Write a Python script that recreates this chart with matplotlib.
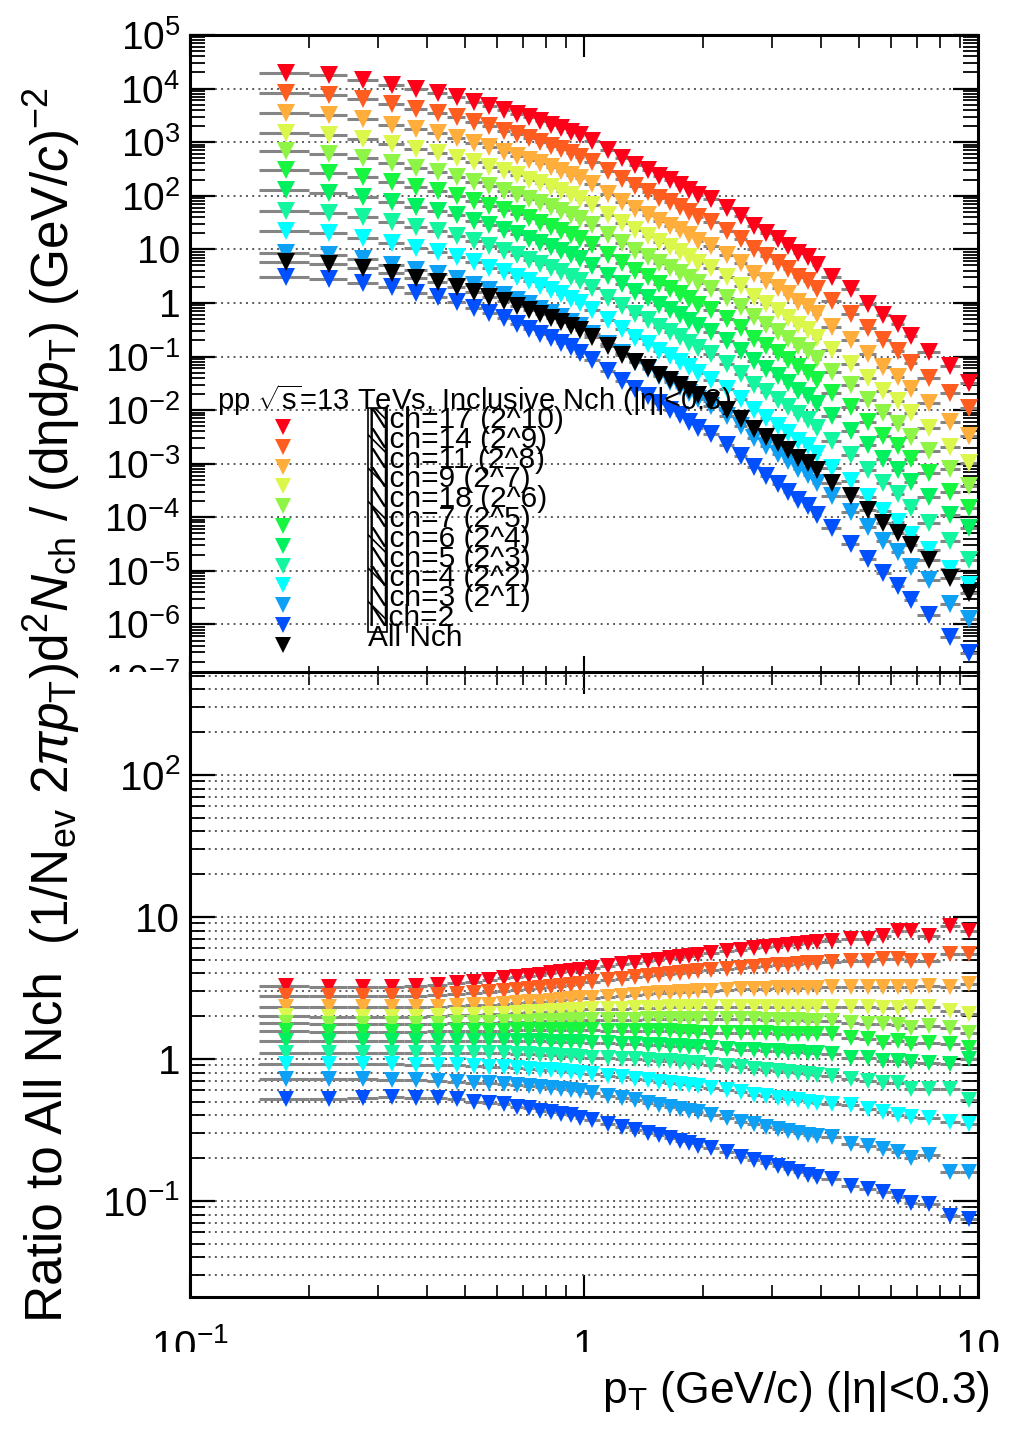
import numpy as np
import matplotlib
matplotlib.use("Agg")
import matplotlib.pyplot as plt
from matplotlib.ticker import LogLocator, FuncFormatter, NullFormatter
from matplotlib.patches import Rectangle
from matplotlib.lines import Line2D

plt.rcParams['font.family'] = ['Liberation Sans', 'DejaVu Sans']
plt.rcParams['mathtext.fontset'] = 'custom'
plt.rcParams['mathtext.rm'] = 'Liberation Sans'
plt.rcParams['mathtext.it'] = 'Liberation Sans:italic'
plt.rcParams['mathtext.bf'] = 'Liberation Sans:bold'
plt.rcParams['mathtext.sf'] = 'Liberation Sans'
plt.rcParams['hatch.linewidth'] = 1.2

# ---------------- data ----------------
pt = [0.175, 0.225, 0.275, 0.325, 0.375, 0.425, 0.475, 0.525, 0.575, 0.625, 0.675, 0.725,
      0.775, 0.825, 0.875, 0.925, 0.975,
      1.05, 1.15, 1.25, 1.35, 1.45, 1.55, 1.65, 1.75, 1.85, 1.95,
      2.1, 2.3, 2.5, 2.7, 2.9, 3.1, 3.3, 3.5, 3.7, 3.9,
      4.25, 4.75, 5.25, 5.75, 6.25, 6.75, 7.5, 8.5, 9.5]
pt_halfwidth = [0.025, 0.025, 0.025, 0.025, 0.025, 0.025, 0.025, 0.025, 0.025, 0.025, 0.025, 0.025,
                0.025, 0.025, 0.025, 0.025, 0.025,
                0.05, 0.05, 0.05, 0.05, 0.05, 0.05, 0.05, 0.05, 0.05, 0.05,
                0.1, 0.1, 0.1, 0.1, 0.1, 0.1, 0.1, 0.1, 0.1, 0.1,
                0.25, 0.25, 0.25, 0.25, 0.25, 0.25, 0.5, 0.5, 0.5]

# All Nch spectrum (1/Nev 2pi pT) d2N/(deta dpT)
all_nch = [5.9, 5.4, 4.5, 3.6, 2.95, 2.45, 2.0, 1.6, 1.3, 1.07, 0.89, 0.74,
           0.62, 0.52, 0.44, 0.37, 0.31,
           0.235, 0.155, 0.108, 0.078, 0.06, 0.046, 0.037, 0.030, 0.024, 0.019,
           0.015, 0.0102, 0.0069, 0.0044, 0.0032, 0.0024, 0.0018, 0.0013, 0.00105, 0.00076,
           0.00044, 0.00025, 0.000135, 0.000079, 0.00005, 0.00003, 0.000016, 0.0000074, 0.0000039]

# ratio to All Nch for each multiplicity class
ratio_nch17 = [3.25, 3.2, 3.2, 3.2, 3.25, 3.3, 3.4, 3.5, 3.6, 3.68, 3.76, 3.84, 3.92, 4.0, 4.08, 4.16, 4.24,
               4.35, 4.5, 4.62, 4.75, 4.87, 4.98, 5.1, 5.2, 5.3, 5.4,
               5.55, 5.72, 5.88, 6.0, 6.12, 6.25, 6.35, 6.45, 6.55, 6.65,
               6.77, 6.96, 6.96, 7.34, 7.97, 7.97, 7.34, 8.65, 7.97]
ratio_nch14 = [2.78, 2.75, 2.75, 2.75, 2.77, 2.8, 2.86, 2.91, 2.96, 3.01, 3.06, 3.11, 3.16, 3.21, 3.26, 3.31, 3.38,
               3.48, 3.58, 3.66, 3.74, 3.82, 3.89, 3.96, 4.03, 4.09, 4.15,
               4.22, 4.3, 4.37, 4.44, 4.5, 4.56, 4.61, 4.66, 4.7, 4.74,
               4.77, 4.9, 4.9, 5.03, 5.03, 4.9, 4.9, 5.45, 5.45]
ratio_nch11 = [2.32, 2.3, 2.3, 2.3, 2.3, 2.32, 2.35, 2.38, 2.41, 2.44, 2.47, 2.5, 2.53, 2.56, 2.6, 2.63, 2.66,
               2.7, 2.74, 2.78, 2.82, 2.86, 2.89, 2.92, 2.95, 2.97, 2.99,
               3.02, 3.05, 3.08, 3.1, 3.12, 3.13, 3.14, 3.15, 3.16, 3.17,
               3.18, 3.18, 3.18, 3.18, 3.18, 3.18, 3.27, 3.18, 3.36]
ratio_nch9 = [2.0, 1.98, 1.98, 1.98, 1.98, 2.0, 2.02, 2.04, 2.06, 2.08, 2.1, 2.12, 2.14, 2.16, 2.18, 2.2, 2.21,
              2.23, 2.25, 2.26, 2.27, 2.28, 2.29, 2.3, 2.3, 2.3, 2.3,
              2.31, 2.31, 2.31, 2.31, 2.31, 2.31, 2.3, 2.3, 2.3, 2.3,
              2.3, 2.3, 2.3, 2.27, 2.27, 2.3, 2.3, 2.18, 2.06]
ratio_nch18 = [1.78, 1.76, 1.76, 1.76, 1.76, 1.77, 1.78, 1.79, 1.8, 1.81, 1.82, 1.83, 1.84, 1.85, 1.86, 1.87, 1.87,
               1.88, 1.88, 1.89, 1.89, 1.9, 1.9, 1.9, 1.91, 1.91, 1.91,
               1.91, 1.91, 1.9, 1.9, 1.89, 1.89, 1.88, 1.87, 1.86, 1.86,
               1.85, 1.8, 1.75, 1.75, 1.72, 1.66, 1.7, 1.66, 1.53]
ratio_nch7 = [1.57, 1.55, 1.55, 1.55, 1.55, 1.56, 1.57, 1.57, 1.58, 1.58, 1.59, 1.59, 1.59, 1.59, 1.59, 1.59, 1.59,
              1.59, 1.58, 1.58, 1.57, 1.57, 1.56, 1.56, 1.55, 1.54, 1.53,
              1.53, 1.52, 1.52, 1.51, 1.51, 1.5, 1.5, 1.5, 1.49, 1.49,
              1.49, 1.41, 1.38, 1.3, 1.33, 1.27, 1.3, 1.27, 1.2]
ratio_nch6 = [1.34, 1.33, 1.33, 1.33, 1.33, 1.33, 1.34, 1.34, 1.34, 1.34, 1.33, 1.33, 1.33, 1.32, 1.32, 1.31, 1.31,
              1.3, 1.29, 1.28, 1.27, 1.26, 1.25, 1.24, 1.23, 1.22, 1.21,
              1.19, 1.17, 1.16, 1.15, 1.14, 1.13, 1.12, 1.11, 1.1, 1.09,
              1.08, 1.02, 1.02, 0.97, 0.97, 0.95, 0.94, 0.92, 0.99]
ratio_nch5 = [1.1, 1.1, 1.1, 1.1, 1.1, 1.1, 1.1, 1.1, 1.09, 1.09, 1.08, 1.08, 1.07, 1.06, 1.05, 1.04, 1.03,
              1.02, 1.01, 1.0, 0.99, 0.98, 0.97, 0.96, 0.95, 0.94, 0.93,
              0.91, 0.89, 0.87, 0.85, 0.84, 0.82, 0.81, 0.8, 0.78, 0.77,
              0.76, 0.72, 0.7, 0.68, 0.68, 0.61, 0.61, 0.61, 0.51]
ratio_nch4 = [0.92, 0.92, 0.92, 0.92, 0.91, 0.91, 0.9, 0.89, 0.88, 0.87, 0.86, 0.85, 0.84, 0.83, 0.82, 0.81, 0.8,
              0.78, 0.76, 0.74, 0.72, 0.71, 0.69, 0.68, 0.66, 0.65, 0.64,
              0.62, 0.6, 0.58, 0.56, 0.55, 0.53, 0.52, 0.51, 0.5, 0.49,
              0.48, 0.47, 0.44, 0.42, 0.4, 0.39, 0.38, 0.36, 0.35]
ratio_nch3 = [0.72, 0.72, 0.72, 0.71, 0.71, 0.7, 0.69, 0.68, 0.67, 0.66, 0.65, 0.64, 0.63, 0.62, 0.61, 0.6, 0.59,
              0.57, 0.55, 0.53, 0.51, 0.49, 0.47, 0.46, 0.44, 0.43, 0.42,
              0.4, 0.38, 0.36, 0.345, 0.33, 0.32, 0.31, 0.3, 0.29, 0.285,
              0.28, 0.25, 0.245, 0.23, 0.22, 0.2, 0.21, 0.16, 0.16]
ratio_nch2 = [0.52, 0.52, 0.53, 0.54, 0.53, 0.53, 0.52, 0.5, 0.49, 0.48, 0.46, 0.45, 0.43, 0.42, 0.41, 0.4, 0.38,
              0.37, 0.35, 0.33, 0.315, 0.3, 0.29, 0.275, 0.265, 0.255, 0.245,
              0.235, 0.22, 0.205, 0.195, 0.185, 0.175, 0.167, 0.16, 0.153, 0.147,
              0.142, 0.128, 0.121, 0.115, 0.106, 0.097, 0.095, 0.078, 0.074]

ratios = [ratio_nch17, ratio_nch14, ratio_nch11, ratio_nch9, ratio_nch18, ratio_nch7,
          ratio_nch6, ratio_nch5, ratio_nch4, ratio_nch3, ratio_nch2]
scale_factors = [1024, 512, 256, 128, 64, 32, 16, 8, 4, 2, 1]
labels = ["Nch=17 (2^10)", "Nch=14 (2^9)", "Nch=11 (2^8)", "Nch=9 (2^7)", "Nch=18 (2^6)",
          "Nch=7 (2^5)", "Nch=6 (2^4)", "Nch=5 (2^3)", "Nch=4 (2^2)", "Nch=3 (2^1)", "Nch=2", "All Nch"]
colors = ['#ff0019', '#ff5c1f', '#ffae3c', '#dcf74b', '#8ef547', '#17f541',
          '#00f060', '#14f5a0', '#00ffff', '#0da0f5', '#0050ff', '#000000']

# ---------------- layout ----------------
W, H = 1010, 1429
def fx(px):
    return px / W
def fy(py):
    return 1 - py / H

fig = plt.figure(figsize=(W / 100, H / 100), dpi=100)
ax_top = fig.add_axes([fx(190), fy(678), fx(978) - fx(190), fy(35) - fy(678)])
ax_bot = fig.add_axes([fx(190), fy(1297), fx(978) - fx(190), fy(672) - fy(1297)])
ax_top.set_zorder(0)
ax_bot.set_zorder(1)
ax_bot.set_facecolor('white')

pt_a = np.array(pt)
xerr = np.array(pt_halfwidth)
all_a = np.array(all_nch)

# top panel spectra
for r, s, c in zip(ratios, scale_factors, colors[:-1]):
    y = np.array(r) * all_a * s
    ax_top.errorbar(pt_a, y, xerr=xerr, fmt='none', ecolor='#858585', elinewidth=2.2,
                    capsize=0, zorder=1.5)
ax_top.errorbar(pt_a, all_a, xerr=xerr, fmt='none', ecolor='#858585', elinewidth=2.2,
                capsize=0, zorder=1.5)
for r, s, c in zip(ratios, scale_factors, colors[:-1]):
    y = np.array(r) * all_a * s
    ax_top.plot(pt_a, y, ls='none', marker='v', ms=12.5, color=c, mew=0, zorder=3)
ax_top.plot(pt_a, all_a, ls='none', marker='v', ms=12.5, color='black', mew=0, zorder=3)

# bottom panel ratios
for r, c in zip(ratios, colors[:-1]):
    ax_bot.errorbar(pt_a, r, xerr=xerr, fmt='none', ecolor='#858585', elinewidth=2.2,
                    capsize=0, zorder=1.5)
for r, c in zip(ratios, colors[:-1]):
    ax_bot.plot(pt_a, r, ls='none', marker='v', ms=11.5, color=c, mew=0, zorder=3)


def root_fmt(v, pos):
    e = int(round(np.log10(v)))
    if e == 0:
        return '1'
    if e == 1:
        return '10'
    return r'$10^{%d}$' % e


grid_kw = dict(color='#5a5a5a', linestyle=(0, (1, 2.2)), linewidth=1.4)
for ax in (ax_top, ax_bot):
    ax.set_xscale('log')
    ax.set_yscale('log')
    ax.set_xlim(0.1, 10)
    ax.xaxis.set_major_locator(LogLocator(base=10, numticks=30))
    ax.xaxis.set_minor_locator(LogLocator(base=10, subs=np.arange(2, 10), numticks=30))
    ax.yaxis.set_major_locator(LogLocator(base=10, numticks=30))
    ax.yaxis.set_minor_locator(LogLocator(base=10, subs=np.arange(2, 10), numticks=30))
    ax.yaxis.set_major_formatter(FuncFormatter(root_fmt))
    ax.yaxis.set_minor_formatter(NullFormatter())
    ax.xaxis.set_major_formatter(FuncFormatter(root_fmt))
    ax.xaxis.set_minor_formatter(NullFormatter())
    ax.tick_params(which='both', direction='in', top=True, right=True)
    ax.tick_params(axis='y', which='major', length=18, width=1.6, labelsize=28, pad=7)
    ax.tick_params(axis='y', which='minor', length=11, width=1.3)
    ax.tick_params(axis='x', which='major', length=16, width=1.5)
    ax.tick_params(axis='x', which='minor', length=9, width=1.2)
    for sp in ax.spines.values():
        sp.set_linewidth(2.2)
    ax.set_axisbelow(True)

ax_top.set_ylim(1e-7, 1e5)
ax_top.tick_params(axis='x', labelbottom=False)
ax_top.grid(True, which='major', axis='y', **grid_kw)

ax_bot.set_ylim(0.021, 530)
ax_bot.tick_params(axis='x', which='major', labelsize=29, pad=22)
ax_bot.tick_params(axis='y', which='major', labelsize=29)
ax_bot.grid(True, which='both', axis='y', **grid_kw)

# covers that clip labels like the original pad boundaries
fig.add_artist(Rectangle((fx(80), fy(710)), fx(187) - fx(80), fy(672) - fy(710),
                         transform=fig.transFigure, facecolor='white', edgecolor='none', zorder=2))
fig.add_artist(Rectangle((fx(100), fy(1372)), fx(1010) - fx(100), fy(1352) - fy(1372),
                         transform=fig.transFigure, facecolor='white', edgecolor='none', zorder=2))

# legend (drawn in the style of the original)
fig.text(fx(217), fy(400), r'pp $\sqrt{\rm s}$=13 TeVs, Inclusive Nch (|η|<0.3)',
         fontsize=21, ha='left', va='center', zorder=4)
for i, (lab, c) in enumerate(zip(labels, colors)):
    fig.add_artist(Line2D([fx(283)], [fy(427 + 19.8 * i)], transform=fig.transFigure,
                          ls='none', marker='v', ms=12, color=c, mew=0, zorder=4))
    fig.text(fx(368), fy(420 + 19.8 * i), lab, fontsize=21.5, ha='left', va='center', zorder=4)
fig.add_artist(Rectangle((fx(368), fy(632)), fx(387) - fx(368), fy(408) - fy(632),
                         transform=fig.transFigure, fill=False, edgecolor='black',
                         hatch='\\', linewidth=1.2, zorder=4))
fig.add_artist(Line2D([fx(407), fx(407)], [fy(408), fy(632)], transform=fig.transFigure,
                      color='black', lw=1.2, zorder=4))

# axis titles
fig.text(fx(48), fy(1322), 'Ratio to All Nch', rotation=90, fontsize=37,
         ha='center', va='bottom', zorder=5)
fig.text(fx(52), fy(87),
         r'(1/N$_{\rm ev}$ 2$\pi$$p_{\rm T}$)d$^{2}$$N_{\rm ch}$ / (dηd$p_{\rm T}$) (GeV/$c$)$^{-2}$',
         rotation=90, fontsize=37, ha='center', va='top', zorder=5)
fig.text(fx(990), fy(1392), r'p$_{\rm T}$ (GeV/c) (|η|<0.3)', fontsize=32,
         ha='right', va='center', zorder=5)

fig.savefig('out.png', dpi=100, facecolor='white')
